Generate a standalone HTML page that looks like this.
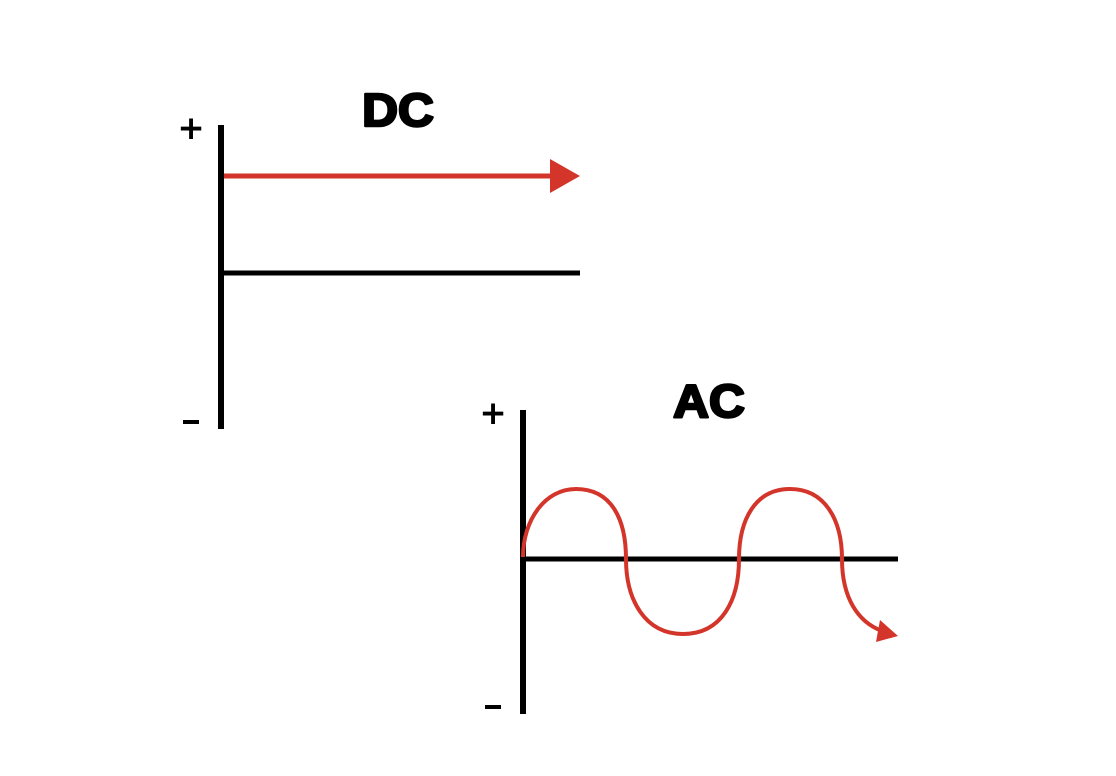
<!DOCTYPE html>
<html><head><meta charset="utf-8"><style>
html,body{margin:0;padding:0;background:#fff;}
svg{display:block;}
text{font-family:"Liberation Sans",sans-serif;font-weight:bold;}
</style></head><body>
<svg width="1116" height="776" viewBox="0 0 1116 776" xmlns="http://www.w3.org/2000/svg">
<rect width="1116" height="776" fill="#fff"/>
<!-- DC -->
<g transform="translate(398,126) scale(1.08,1)">
<text x="0" y="0" font-size="46" text-anchor="middle" fill="#000" stroke="#000" stroke-width="2.5" stroke-linejoin="round">DC</text>
</g>
<text x="191" y="142" font-size="40" text-anchor="middle" fill="#000" stroke="#000" stroke-width="1" style="font-weight:normal">+</text>
<rect x="183" y="420" width="16" height="4" fill="#000"/>
<line x1="221" y1="125" x2="221" y2="429" stroke="#000" stroke-width="6"/>
<line x1="221" y1="273" x2="580" y2="273" stroke="#000" stroke-width="5"/>
<line x1="224" y1="176" x2="553" y2="176" stroke="#d3352a" stroke-width="5"/>
<polygon points="550,159 580,176 550,193" fill="#d3352a"/>
<!-- AC -->
<g transform="translate(709,417) scale(1.08,1)">
<text x="0" y="0" font-size="46" text-anchor="middle" fill="#000" stroke="#000" stroke-width="2.5" stroke-linejoin="round">AC</text>
</g>
<text x="493" y="427" font-size="40" text-anchor="middle" fill="#000" stroke="#000" stroke-width="1" style="font-weight:normal">+</text>
<rect x="485" y="705" width="16" height="4" fill="#000"/>
<line x1="523" y1="410" x2="523" y2="714" stroke="#000" stroke-width="6"/>
<line x1="523" y1="559" x2="898" y2="559" stroke="#000" stroke-width="5"/>
<path d="M523,557 C523,520 545,489 576,489 C612,489 626,520 626,559 C626,600 645,634 683,634 C722,634 739,600 739,559 C739,520 755,489 790,489 C825,489 842,520 842,559 C842,598 858,622 882,631" fill="none" stroke="#d3352a" stroke-width="4"/>
<polygon points="898,636 880,620 876,642" fill="#d3352a"/>
</svg>
</body></html>
